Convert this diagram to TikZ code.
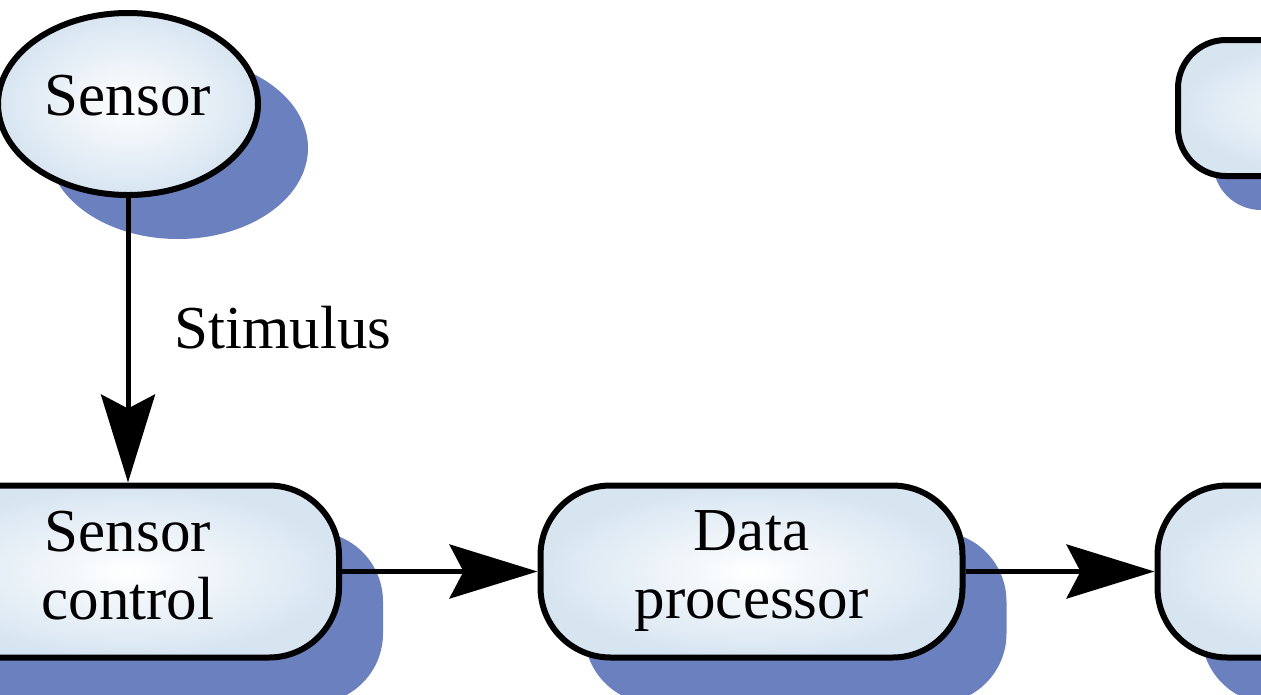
\documentclass[tikz,border=0pt]{standalone}
\usepackage{fontspec}
\setmainfont{Liberation Serif}
\usetikzlibrary{arrows.meta,shapes.geometric,shadows}
\definecolor{shadowblue}{RGB}{107,128,190}
\definecolor{fillblue}{RGB}{215,229,241}
\tikzset{
  base/.style={draw=black, line width=6pt, shading=radial, inner color=white,
    outer color=fillblue, font=\fontsize{61}{68}\selectfont, align=center, inner sep=0pt},
  oval/.style={base, ellipse, minimum width=260pt, minimum height=182pt, text depth=17pt,
    general shadow={fill=shadowblue, shadow xshift=50pt, shadow yshift=-44pt}},
  procbox/.style={base, rectangle, rounded corners=70pt, minimum width=422pt,
    minimum height=172pt, text depth=13pt,
    general shadow={fill=shadowblue, shadow xshift=44pt, shadow yshift=-46pt}},
  smallbox/.style={base, rectangle, rounded corners=48pt, minimum width=334pt,
    minimum height=136pt,
    general shadow={fill=shadowblue, shadow xshift=35pt, shadow yshift=-34pt}},
  conn/.style={line width=5pt, -{Stealth[length=88pt, width=54pt, inset=14pt]}},
  lbl/.style={font=\fontsize{61}{68}\selectfont, inner sep=0pt},
}
\begin{document}
\begin{tikzpicture}[x=1pt,y=-1pt]
\useasboundingbox (0,0) rectangle (1261,694);
\clip (0,0) rectangle (1261,694);
\node[oval] (sensor) at (128,104) {Sensor};
\node[procbox] (ctrl) at (128,571.5) {Sensor\\control};
\node[procbox] (proc) at (751.5,571.5) {Data\\processor};
\node[procbox] (out) at (1368.5,571.5) {};
\node[smallbox] (top) at (1345,108) {};
\draw[conn] (sensor) -- (ctrl)
  node[lbl, midway, anchor=west, xshift=44pt, yshift=13pt] (stim) {Stimulus};
\draw[conn] (ctrl) -- (proc);
\draw[conn] (proc) -- (out);
\end{tikzpicture}
\end{document}
